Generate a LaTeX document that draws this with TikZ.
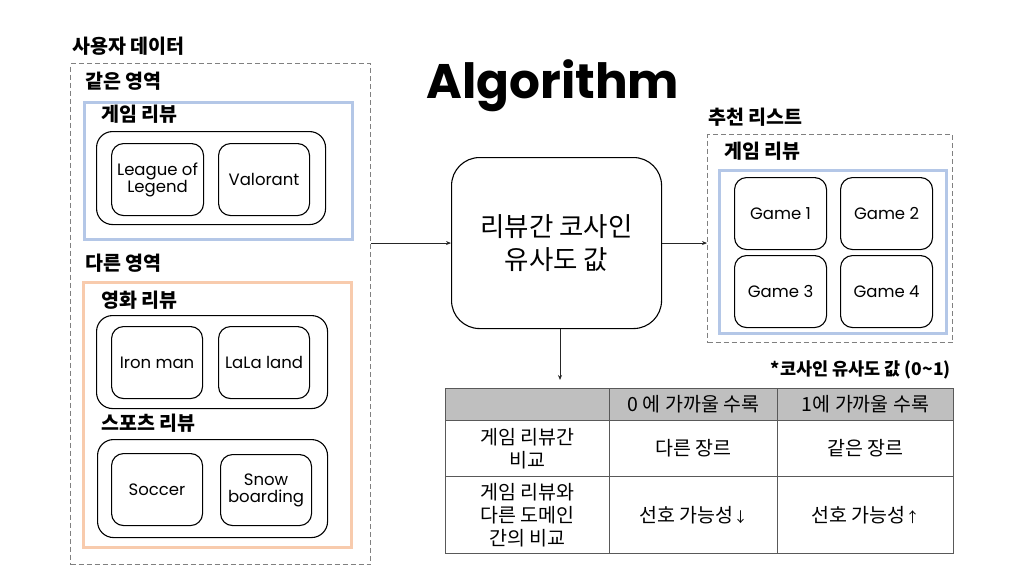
\documentclass[tikz,border=0pt]{standalone}
\usepackage{fontspec}
\setmainfont{Noto Sans CJK KR}
\newfontfamily\latinfont{Poppins}
\usetikzlibrary{arrows.meta}
\definecolor{boxblue}{HTML}{B4C7E7}
\definecolor{boxorange}{HTML}{F8CBAD}
\definecolor{dashgrey}{HTML}{808080}
\definecolor{headgrey}{HTML}{BFBFBF}
\definecolor{rulegrey}{HTML}{595959}
\tikzset{
  grouplabel/.style={anchor=west, inner sep=0pt, font=\bfseries\fontsize{19.5}{22}\selectfont},
  dashbox/.style={draw=dashgrey, line width=1.3pt, dash pattern=on 5pt off 3pt, anchor=north west, inner sep=0pt},
  bluebox/.style={draw=boxblue, line width=2.6pt, anchor=north west, inner sep=0pt},
  orangebox/.style={draw=boxorange, line width=2.6pt, anchor=north west, inner sep=0pt},
  groupbox/.style={draw=black, line width=1.1pt, rounded corners=16pt, anchor=north west, inner sep=0pt},
  itembox/.style={draw=black, line width=1.1pt, rounded corners=12pt, anchor=north west, inner sep=0pt,
    align=center, font=\latinfont\fontsize{16.5}{19}\selectfont},
  flow/.style={-{Stealth[length=5pt,width=4pt]}, line width=0.8pt, draw=black!85},
  cell/.style={draw=rulegrey, line width=1pt, anchor=north west, inner sep=0pt, align=center,
    font=\fontsize{19.5}{23}\selectfont},
}
\begin{document}
\begin{tikzpicture}[x=1pt,y=-1pt]
\useasboundingbox (0,0) rectangle (1024,576);

% title
\node[inner sep=0pt, font=\latinfont\bfseries\fontsize{48.5}{52}\selectfont] (title) at (553,86) {Algorithm};

% user data panel
\node[grouplabel] (udlabel) at (72,46) {사용자 데이터};
\node[dashbox, minimum width=300pt, minimum height=501pt] (ud) at (70,63) {};

\node[grouplabel] (samelabel) at (85,81) {같은 영역};
\node[bluebox, minimum width=268pt, minimum height=137pt] (same) at (83,101) {};
\node[grouplabel] (gamelabel) at (101,114) {게임 리뷰};
\node[groupbox, minimum width=229pt, minimum height=93pt] (gamegrp) at (96,131) {};
\node[itembox, minimum width=92pt, minimum height=72pt] (lol) at (111,143) {League of\\[-2pt]Legend};
\node[itembox, minimum width=91pt, minimum height=72pt] (val) at (218,143) {Valorant};

\node[grouplabel] (difflabel) at (85,263) {다른 영역};
\node[orangebox, minimum width=268pt, minimum height=265pt] (diff) at (82,281) {};
\node[grouplabel] (movielabel) at (101,300) {영화 리뷰};
\node[groupbox, minimum width=231pt, minimum height=93pt] (moviegrp) at (96,315) {};
\node[itembox, minimum width=91pt, minimum height=72pt] (iron) at (111,326) {Iron man};
\node[itembox, minimum width=91pt, minimum height=72pt] (lala) at (218,326) {LaLa land};
\node[grouplabel] (sportlabel) at (101,423) {스포츠 리뷰};
\node[groupbox, minimum width=230pt, minimum height=98pt] (sportgrp) at (97,439) {};
\node[itembox, minimum width=91pt, minimum height=72pt] (soccer) at (111,453) {Soccer};
\node[itembox, minimum width=91pt, minimum height=71pt] (snow) at (220,454) {Snow\\[-2pt]boarding};

% similarity block
\node[draw=black, line width=1.1pt, rounded corners=28pt, anchor=north west, inner sep=0pt,
      minimum width=210pt, minimum height=171pt, align=center,
      font=\fontsize{26.5}{33}\selectfont] (alg) at (451,157) {리뷰간 코사인\\유사도 값};

% recommendation panel
\node[grouplabel] (reclabel) at (708,117) {추천 리스트};
\node[dashbox, minimum width=245pt, minimum height=208pt] (rec) at (707,134) {};
\node[grouplabel] (recgamelabel) at (724,151) {게임 리뷰};
\node[bluebox, minimum width=227pt, minimum height=163pt] (recblue) at (718,169) {};
\node[itembox, minimum width=92pt, minimum height=72pt] (g1) at (734,177) {Game 1};
\node[itembox, minimum width=92pt, minimum height=72pt] (g2) at (840,177) {Game 2};
\node[itembox, minimum width=92pt, minimum height=72pt] (g3) at (734,255) {Game 3};
\node[itembox, minimum width=92pt, minimum height=72pt] (g4) at (840,255) {Game 4};

% connectors
\coordinate (tbltop) at (560,380);
\draw[flow] (ud.east |- alg.west) -- (alg.west);
\draw[flow] (alg.east) -- (rec.west |- alg.east);
\draw[flow] (alg.south -| tbltop) -- (tbltop);

% legend table
\node[anchor=east, inner sep=0pt, font=\bfseries\fontsize{17.5}{20}\selectfont] (note) at (951,370) {*코사인 유사도 값 (0\textasciitilde 1)};

\node[cell, fill=headgrey, minimum width=164pt, minimum height=32pt] (h0) at (445,388) {};
\node[cell, fill=headgrey, minimum width=168pt, minimum height=32pt] (h1) at (609,388) {0 에 가까울 수록};
\node[cell, fill=headgrey, minimum width=176pt, minimum height=32pt] (h2) at (777,388) {1에 가까울 수록};

\node[cell, minimum width=164pt, minimum height=56pt] (r1c0) at (445,420) {게임 리뷰간\\비교};
\node[cell, minimum width=168pt, minimum height=56pt] (r1c1) at (609,420) {다른 장르};
\node[cell, minimum width=176pt, minimum height=56pt] (r1c2) at (777,420) {같은 장르};

\node[cell, minimum width=164pt, minimum height=77pt] (r2c0) at (445,476) {게임 리뷰와\\다른 도메인\\간의 비교};
\node[cell, minimum width=168pt, minimum height=77pt] (r2c1) at (609,476) {선호 가능성{\fontsize{14}{16}\selectfont↓}};
\node[cell, minimum width=176pt, minimum height=77pt] (r2c2) at (777,476) {선호 가능성{\fontsize{14}{16}\selectfont↑}};
\end{tikzpicture}
\end{document}
